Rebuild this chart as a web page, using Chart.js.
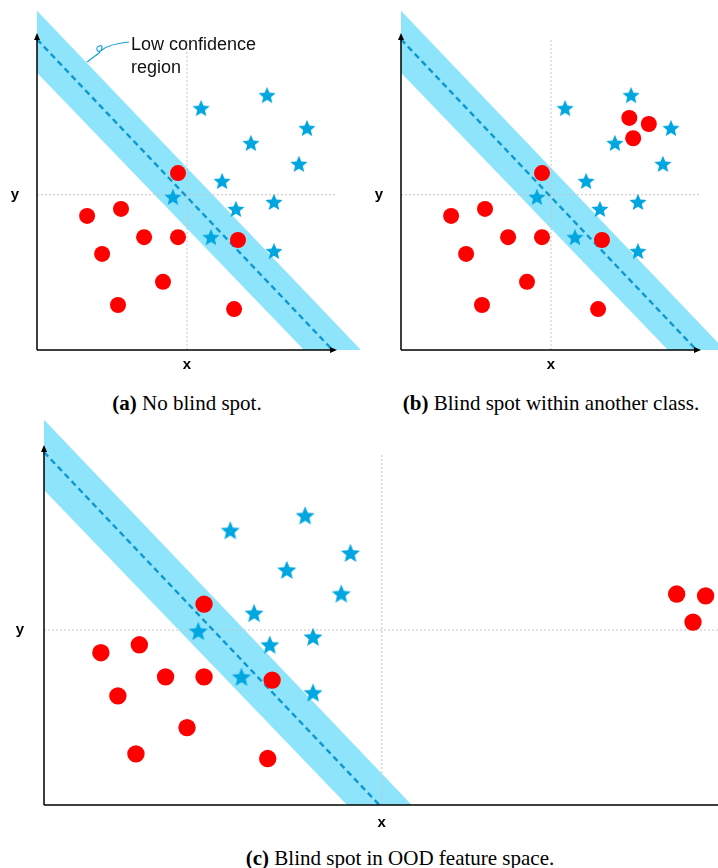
<!DOCTYPE html>
<html>
<head>
<meta charset="utf-8">
<script src="https://cdn.jsdelivr.net/npm/chart.js@4.4.0/dist/chart.umd.min.js"></script>
<style>
  body { margin: 0; background: #fff; width: 718px; height: 868px; position: relative; overflow: hidden; }
  canvas { position: absolute; }
  .cap { position: absolute; font-family: "Liberation Serif", "Times New Roman", serif; font-size: 21px; line-height: 24px; color: #000; white-space: nowrap; transform: translateX(-50%); }
</style>
</head>
<body>
<canvas id="chartA" width="360" height="380" style="left:0;top:0"></canvas>
<canvas id="chartB" width="354" height="380" style="left:364px;top:0"></canvas>
<canvas id="chartC" width="718" height="425" style="left:0;top:415px"></canvas>
<div class="cap" id="capA" style="left:187px;top:391px"></div>
<div class="cap" id="capB" style="left:551px;top:391px"></div>
<div class="cap" id="capC" style="left:400px;top:846px"></div>
<script>
// class 1 (red circles), same layout in every panel
const circleClass = [[4.70, 5.58], [1.67, 4.23], [2.80, 4.45], [3.57, 3.56], [4.70, 3.56],
  [2.17, 3.03], [6.70, 3.47], [4.20, 2.15], [2.70, 1.42], [6.57, 1.29]];
// class 2 (blue stars)
const starClass = [[5.47, 7.63], [7.67, 8.04], [9.00, 7.00], [7.13, 6.53], [8.73, 5.87],
  [6.17, 5.33], [4.53, 4.83], [6.63, 4.45], [7.90, 4.67], [5.80, 3.56], [7.90, 3.12]];
// extra red points of panel (b) and panel (c)
const blindSpotCluster = [[7.61, 7.32], [8.26, 7.13], [7.74, 6.68]];
const oodCluster = [[18.58, 5.86], [19.43, 5.81], [19.06, 5.08]];
// decision boundary and low confidence band
const boundaryLine = [[0, 9.8], [9.85, 0]];
const lowConfBand = [[0, 10.7], [10.8, 0], [8.9, 0], [0, 8.75]];
// dotted reference cross (x, y)
const crossAB = [5.0, 4.9];
const crossC = [9.92, 4.86];
const axisLabels = ['x', 'y'];
const captionTags = ['(a)', '(b)', '(c)'];
const captions = ['No blind spot.', 'Blind spot within another class.', 'Blind spot in OOD feature space.'];

const RED = '#fe0000', STAR = '#00a6e0', BAND = '#8ee4fb', DASH = '#0f98cf', GRID = '#c4c4c4';

['capA', 'capB', 'capC'].forEach((id, i) => {
  const el = document.getElementById(id);
  const b = document.createElement('b');
  b.textContent = captionTags[i];
  el.appendChild(b);
  el.appendChild(document.createTextNode(' ' + captions[i]));
});

function pts(arr) { return arr.map(p => ({ x: p[0], y: p[1] })); }

function starImg(R) {
  const size = Math.ceil(2 * R + 2);
  const c = document.createElement('canvas');
  c.width = c.height = size;
  const g = c.getContext('2d');
  g.translate(size / 2, size / 2 + R * 0.08);
  g.beginPath();
  for (let i = 0; i < 10; i++) {
    const a = -Math.PI / 2 + i * Math.PI / 5;
    const r = i % 2 ? R * 0.45 : R;
    g.lineTo(r * Math.cos(a), r * Math.sin(a));
  }
  g.closePath();
  g.fillStyle = STAR;
  g.fill();
  return c;
}

const axesPlugin = {
  id: 'axes',
  afterDatasetsDraw(chart, args, o) {
    const { ctx, scales: { x, y } } = chart;
    const x0 = x.getPixelForValue(0), y0 = y.getPixelForValue(0);
    const xe = x.getPixelForValue(o.xEnd), ye = y.getPixelForValue(o.yEnd);
    ctx.save();
    ctx.strokeStyle = '#000';
    ctx.fillStyle = '#000';
    ctx.lineWidth = 1.5;
    ctx.beginPath();
    ctx.moveTo(x0, y0); ctx.lineTo(x0, ye + 4);
    ctx.moveTo(x0, y0); ctx.lineTo(xe - 4, y0);
    ctx.stroke();
    ctx.beginPath();
    ctx.moveTo(x0, ye); ctx.lineTo(x0 - 3, ye + 7); ctx.lineTo(x0 + 3, ye + 7);
    ctx.closePath(); ctx.fill();
    ctx.beginPath();
    ctx.moveTo(xe, y0); ctx.lineTo(xe - 7, y0 - 3); ctx.lineTo(xe - 7, y0 + 3);
    ctx.closePath(); ctx.fill();
    ctx.font = 'bold 15px "Liberation Sans", Arial, sans-serif';
    ctx.textAlign = 'center';
    ctx.textBaseline = 'middle';
    ctx.fillText(axisLabels[0], x.getPixelForValue(o.cross[0]), y0 + o.xGap);
    ctx.fillText(axisLabels[1], x0 - o.yGap, y.getPixelForValue(o.cross[1]));
    ctx.restore();
  }
};

// callout "Low confidence region" in panel (a)
const calloutPlugin = {
  id: 'callout',
  afterDraw(chart, args, o) {
    if (!o.show) return;
    const ctx = chart.ctx;
    ctx.save();
    ctx.strokeStyle = '#1a9fd6';
    ctx.lineWidth = 1.2;
    ctx.beginPath();
    ctx.moveTo(129, 42);
    ctx.bezierCurveTo(118, 43, 107, 46, 102, 50);
    ctx.bezierCurveTo(97, 54, 95, 48, 99, 46);
    ctx.bezierCurveTo(103, 44, 103, 49, 99, 53);
    ctx.lineTo(87, 62);
    ctx.stroke();
    ctx.fillStyle = '#111';
    ctx.font = '18px "Liberation Sans", Arial, sans-serif';
    ctx.textBaseline = 'alphabetic';
    ctx.fillText('Low confidence', 131, 50);
    ctx.fillText('region', 131, 73);
    ctx.restore();
  }
};

function makeChart(id, p) {
  const extra = p.extra ? [{
    type: 'scatter', data: pts(p.extra), pointStyle: 'circle', pointRadius: p.dot,
    backgroundColor: RED, borderWidth: 0, order: 0
  }] : [];
  new Chart(document.getElementById(id), {
    type: 'scatter',
    data: {
      datasets: [
        { type: 'scatter', data: pts(circleClass), pointStyle: 'circle', pointRadius: p.dot,
          backgroundColor: RED, borderWidth: 0, order: 0 },
        { type: 'scatter', data: pts(starClass), pointStyle: starImg(p.star), pointRadius: p.star,
          borderWidth: 0, order: 0 },
        ...extra,
        { type: 'line', data: pts(boundaryLine), borderColor: DASH, borderWidth: 2.4,
          borderDash: [6, 4], pointRadius: 0, fill: false, order: 1 },
        { type: 'line', data: [{ x: p.cross[0], y: 0 }, { x: p.cross[0], y: 9.78 }],
          borderColor: GRID, borderWidth: 1, borderDash: [2, 2], pointRadius: 0, fill: false, order: 2 },
        { type: 'line', data: [{ x: 0, y: p.cross[1] }, { x: p.hEnd, y: p.cross[1] }],
          borderColor: GRID, borderWidth: 1, borderDash: [2, 2], pointRadius: 0, fill: false, order: 2 },
        { type: 'line', data: pts(lowConfBand), borderWidth: 0, borderColor: 'rgba(0,0,0,0)',
          backgroundColor: BAND, pointRadius: 0, fill: 'shape', order: 3 }
      ]
    },
    options: {
      responsive: false,
      animation: false,
      layout: { padding: 0, autoPadding: false },
      scales: {
        x: { type: 'linear', display: false, min: p.xr[0], max: p.xr[1] },
        y: { type: 'linear', display: false, min: p.yr[0], max: p.yr[1] }
      },
      plugins: {
        legend: { display: false },
        tooltip: { enabled: false },
        axes: { xEnd: p.xEnd, yEnd: 10, cross: p.cross, xGap: p.xGap, yGap: p.yGap },
        callout: { show: !!p.callout }
      }
    },
    plugins: [axesPlugin, calloutPlugin]
  });
}

makeChart('chartA', { xr: [-1.2333, 10.7667], yr: [-0.946, 11.041], cross: crossAB, hEnd: 10,
  xEnd: 10, dot: 8, star: 9, xGap: 15, yGap: 22, callout: true });
makeChart('chartB', { xr: [-1.2333, 10.5667], yr: [-0.946, 11.041], cross: crossAB, hEnd: 10,
  xEnd: 10, dot: 8, star: 9, xGap: 15, yGap: 22, extra: blindSpotCluster });
makeChart('chartC', { xr: [-1.2922, 19.794], yr: [-0.972, 10.833], cross: crossC, hEnd: 19.8,
  xEnd: 20.5, dot: 8.7, star: 10, xGap: 18, yGap: 24, extra: oodCluster });
</script>
</body>
</html>
